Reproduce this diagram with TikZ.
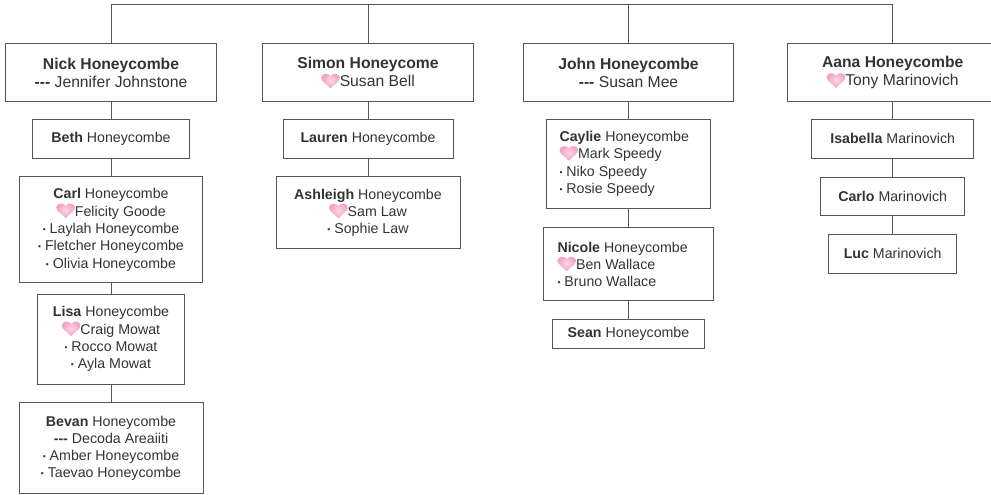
\documentclass[tikz,border=0pt]{standalone}
\usepackage{fontspec}
\setmainfont{Liberation Sans}
\usepackage{tikz}
\definecolor{linegray}{HTML}{555555}
\definecolor{textgray}{HTML}{333333}
\definecolor{heartpink}{HTML}{F39EC2}
\definecolor{heartlight}{HTML}{FCD8E8}
\newcommand{\lheart}{\tikz[baseline=-4.7pt,x=1.55pt,y=1.35pt]{\shade[inner color=heartlight,outer color=heartpink,draw=none] (0,-5) .. controls (-2,-2) and (-6,0) .. (-6,3) .. controls (-6,6.3) and (-1,7) .. (0,4) .. controls (1,7) and (6,6.3) .. (6,3) .. controls (6,0) and (2,-2) .. (0,-5);}}
\newcommand{\kid}{\raisebox{1pt}{\fontsize{8.5}{9}\selectfont •}\ }
\newcommand{\sep}{\textbf{-{}-{}-}}

\begin{document}
\begin{tikzpicture}[x=1pt,y=-1pt,
	person/.style={draw=linegray,line width=1pt,text=textgray,align=center,inner sep=0pt,font=\fontsize{14.2}{17.3}\selectfont},
	head/.style={person,font=\fontsize{15.7}{18}\selectfont,minimum width=210.6pt,minimum height=57.7pt},
	link/.style={draw=linegray,line width=1pt}]
			\useasboundingbox (0,0) rectangle (991,495);
			\clip (0,0) rectangle (991,495);
			%Nick's column
			\node[head] (nick) at (111,72.8) {\textbf{Nick Honeycombe}\\\sep{} Jennifer Johnstone};
			\node[person,minimum width=157.7pt,minimum height=39pt] (beth) at (111,138.5) {\textbf{Beth} Honeycombe};
			\node[person,minimum width=183.3pt,minimum height=106.3pt] (carl) at (111,229.8) {\textbf{Carl} Honeycombe\\\lheart{}Felicity Goode\\\kid Laylah Honeycombe\\\kid Fletcher Honeycombe\\\kid Olivia Honeycombe};
			\node[person,minimum width=146.6pt,minimum height=89.7pt] (lisa) at (111,339.2) {\textbf{Lisa} Honeycombe\\\lheart{}Craig Mowat\\\kid Rocco Mowat\\\kid Ayla Mowat};
			\node[person,minimum width=184pt,minimum height=91.3pt] (bevan) at (111,448.3) {\textbf{Bevan} Honeycombe\\\sep{} Decoda Areaiiti\\\kid Amber Honeycombe\\\kid Taevao Honeycombe};
			%Simon's column
			\node[head] (simon) at (368,72.8) {\textbf{Simon Honeycome}\\\lheart{}Susan Bell};
			\node[person,minimum width=170pt,minimum height=39pt] (lauren) at (368,138.5) {\textbf{Lauren} Honeycombe};
			\node[person,minimum width=184pt,minimum height=72pt] (ashleigh) at (368,212.7) {\textbf{Ashleigh} Honeycombe\\\lheart{}Sam Law\\\kid Sophie Law};
			%John's column
			\node[head] (john) at (628.5,72.8) {\textbf{John Honeycombe}\\\sep{} Susan Mee};
			\node[person,align=flush left,text width=138pt,inner xsep=13pt,minimum height=89.3pt] (caylie) at (628.5,163.7) {\textbf{Caylie} Honeycombe\\\lheart{}Mark Speedy\\\kid Niko Speedy\\\kid Rosie Speedy};
			\node[person,align=flush left,text width=142pt,inner xsep=14pt,minimum height=73.3pt] (nicole) at (628.5,264.3) {\textbf{Nicole} Honeycombe\\\lheart{}Ben Wallace\\\kid Bruno Wallace};
			\node[person,minimum width=151.6pt,minimum height=29pt] (sean) at (628.5,333.8) {\textbf{Sean} Honeycombe};
			%Aana's column
			\node[head] (aana) at (892.7,72.8) {\textbf{Aana Honeycombe}\\\lheart{}Tony Marinovich};
			\node[person,minimum width=161.6pt,minimum height=39pt] (isabella) at (892.7,138.5) {\textbf{Isabella} Marinovich};
			\node[person,minimum width=144.3pt,minimum height=38pt] (carlo) at (892.7,196) {\textbf{Carlo} Marinovich};
			\node[person,minimum width=128.3pt,minimum height=39pt] (luc) at (892.7,253.8) {\textbf{Luc} Marinovich};
			%Connectors
			\coordinate (bus) at (0,5);
			\draw[link] (nick.north) |- (bus -| aana.north) -- (aana.north);
			\foreach \p in {simon,john}
			{\draw[link] (\p.north) -- (\p.north |- bus);}
			\foreach \a/\b in {nick/beth,beth/carl,carl/lisa,lisa/bevan,simon/lauren,lauren/ashleigh,john/caylie,caylie/nicole,nicole/sean,aana/isabella,isabella/carlo,carlo/luc}
			{\draw[link] (\a.south) -- (\b.north);}
\end{tikzpicture}
\end{document}
